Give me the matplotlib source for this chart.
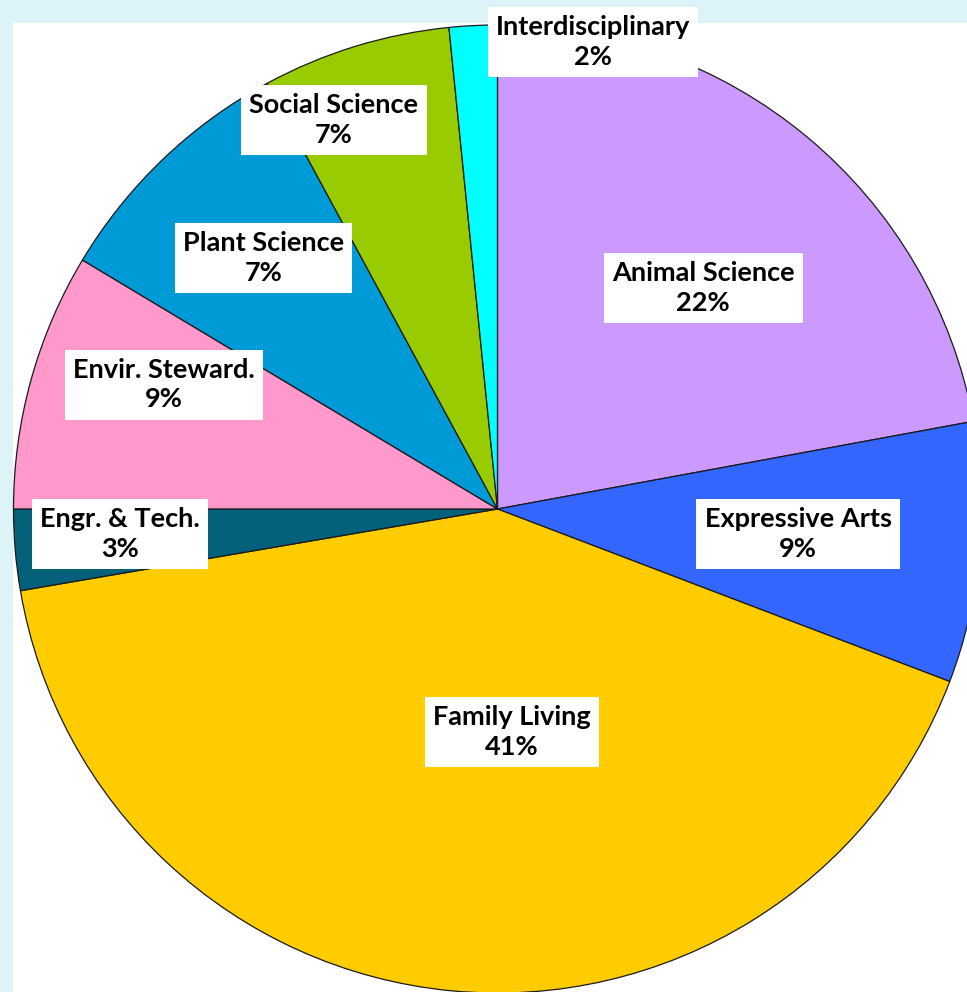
import numpy as np
import matplotlib.pyplot as plt
from matplotlib.patches import Rectangle

# slice data, clockwise from 12 o'clock
categories = ['Animal Science', 'Expressive Arts', 'Family Living', 'Engr. & Tech.',
              'Envir. Steward.', 'Plant Science', 'Social Science', 'Interdisciplinary']
shares = [22.1, 8.7, 41.5, 2.7, 8.6, 8.5, 6.3, 1.6]   # wedge sizes as drawn
pct_labels = ['22%', '9%', '41%', '3%', '9%', '7%', '7%', '2%']  # printed numbers
colors = ['#CC99FF', '#3366FF', '#FFCC00', '#05607A',
          '#FF99CC', '#009BD6', '#99CC00', '#00FFFF']

# where each label box sits (pie-radius units, pie centre at 0,0)
label_pos = [(0.425, 0.457), (0.621, -0.052), (0.030, -0.461), (-0.780, -0.052),
             (-0.689, 0.257), (-0.484, 0.519), (-0.338, 0.804), (0.197, 0.965)]

W, H = 967, 992
fig = plt.figure(figsize=(W / 100, H / 100), dpi=100, facecolor='#DCF3F8')

# white plot area, pie centre at pixel (497.5, 509), radius 484 px
left_px, top_px = 13, 23
cx, cy, r = 497.5, 509, 484
fig.add_artist(Rectangle((left_px / W, 0), 1, (H - top_px) / H,
                         transform=fig.transFigure, fc='white', ec='none', zorder=-5))
ax = fig.add_axes([left_px / W, 0, (W - left_px) / W, (H - top_px) / H])

wedges, _ = ax.pie(shares, colors=colors, startangle=90, counterclock=False,
                   wedgeprops=dict(edgecolor='#1a1a1a', linewidth=0.9))
for w in wedges:
    w.set_clip_on(False)

for name, pct, (x, y) in zip(categories, pct_labels, label_pos):
    ax.text(x, y, name + '\n' + pct, ha='center', va='center',
            fontsize=19.5, fontfamily='Lato', fontweight='bold', color='black',
            linespacing=1.28,
            bbox=dict(boxstyle='square,pad=0.3', fc='white', ec='none'))

ax.set_xlim((left_px - cx) / r, (W - cx) / r)
ax.set_ylim(-(H - cy) / r, (cy - top_px) / r)
ax.set_aspect('auto')
ax.axis('off')

fig.savefig('out.png', dpi=100, facecolor=fig.get_facecolor())
